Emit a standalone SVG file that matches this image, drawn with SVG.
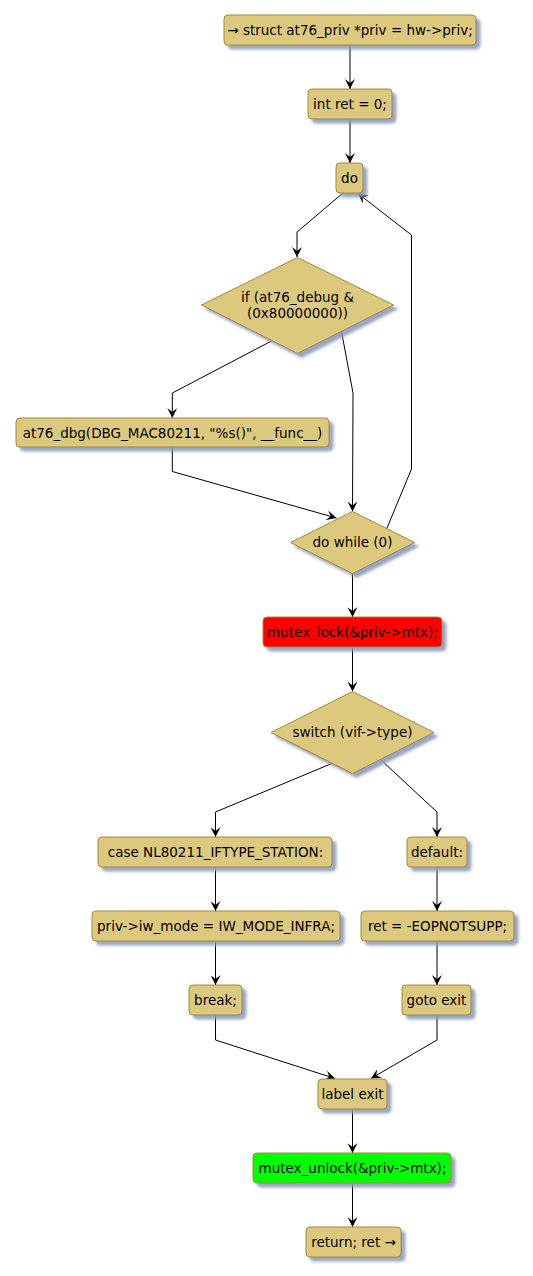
<svg xmlns="http://www.w3.org/2000/svg" width="533" height="1276" viewBox="0 0 533 1276">
<defs>
<filter id="sh" x="-20%" y="-20%" width="140%" height="160%">
<feGaussianBlur in="SourceAlpha" stdDeviation="1.5"/>
<feOffset dx="4" dy="4" result="o"/>
<feFlood flood-color="#8C9BBA" flood-opacity="0.9"/>
<feComposite in2="o" operator="in"/>
<feMerge><feMergeNode/><feMergeNode in="SourceGraphic"/></feMerge>
</filter>
<marker id="ah" viewBox="0 0 10 10" refX="10" refY="5" markerWidth="10" markerHeight="10" markerUnits="userSpaceOnUse" orient="auto">
<path d="M0,0 L10,5 L0,10 L4,5 Z" fill="#000"/>
</marker>
</defs>
<style>
.n{fill:#DDC97D;stroke:#A08A3C;stroke-width:1;filter:url(#sh)}
.red{fill:#FF0000}
.green{fill:#00FF00}
text{font-family:"DejaVu Sans",sans-serif;font-size:13.5px;fill:#000;text-anchor:middle}
.c{fill:none;stroke:#000;stroke-width:1;marker-end:url(#ah)}
</style>
<rect width="533" height="1276" fill="#fff"/>
<g id="connectors">
<path class="c" d="M350,45 V89"/>
<path class="c" d="M350,119 V163"/>
<path class="c" d="M343,193 L297,232 V257"/>
<path class="c" d="M271.5,341 L172.3,393 V418"/>
<path class="c" d="M341.5,331.5 L353,393 L352.5,511.5"/>
<path class="c" d="M172.3,447 V471.5 L336.5,518"/>
<path class="c" d="M387,528 L411.5,469 V235 L358,193.5"/>
<path class="c" d="M352.5,573 V617"/>
<path class="c" d="M352.5,647.5 V691.5"/>
<path class="c" d="M333,763 L215.5,812 V837"/>
<path class="c" d="M380,759 L437,812 V837"/>
<path class="c" d="M215.5,867.5 V911"/>
<path class="c" d="M437,867.5 V911"/>
<path class="c" d="M215.5,941.5 V985"/>
<path class="c" d="M437,941.5 V985"/>
<path class="c" d="M215.5,1015 V1040 L335,1078.5"/>
<path class="c" d="M437,1015 V1040 L371,1078.5"/>
<path class="c" d="M352.5,1109 V1153"/>
<path class="c" d="M352.5,1183 V1227"/>
</g>
<g id="n1"><rect class="n" x="224" y="15" width="252" height="30" rx="4"/><text x="350" y="35">→ struct at76_priv *priv = hw-&gt;priv;</text></g>
<g id="n2"><rect class="n" x="308" y="89" width="84" height="30" rx="4"/><text x="350" y="109">int ret = 0;</text></g>
<g id="n3"><rect class="n" x="336" y="163" width="27" height="30" rx="4"/><text x="349.5" y="183">do</text></g>
<g id="n4"><polygon class="n" points="297.5,257.5 393.5,305 297.5,353.5 201.5,305"/><text x="297.5" y="302">if (at76_debug &amp;</text><text x="297.5" y="318">(0x80000000))</text></g>
<g id="n5"><rect class="n" x="16" y="418" width="313" height="29" rx="4"/><text x="172.5" y="437.5">at76_dbg(DBG_MAC80211, "%s()", __func__)</text></g>
<g id="n6"><polygon class="n" points="352.5,511.5 414.5,542.5 352.5,573.5 290.5,542.5"/><text x="352.5" y="547">do while (0)</text></g>
<g id="n7"><rect class="n red" x="263" y="617" width="179" height="30" rx="4"/><text x="352.5" y="637">mutex_lock(&amp;priv-&gt;mtx);</text></g>
<g id="n8"><polygon class="n" points="352.5,691.5 434,732.5 352.5,773.5 271,732.5"/><text x="352.5" y="737">switch (vif-&gt;type)</text></g>
<g id="n9"><rect class="n" x="98" y="837" width="234" height="30" rx="4"/><text x="215.5" y="857">case NL80211_IFTYPE_STATION:</text></g>
<g id="n10"><rect class="n" x="407" y="837" width="60" height="30" rx="4"/><text x="437" y="857">default:</text></g>
<g id="n11"><rect class="n" x="92" y="911" width="248" height="30" rx="4"/><text x="216" y="931">priv-&gt;iw_mode = IW_MODE_INFRA;</text></g>
<g id="n12"><rect class="n" x="361" y="911" width="153" height="30" rx="4"/><text x="437.5" y="931">ret = -EOPNOTSUPP;</text></g>
<g id="n13"><rect class="n" x="189" y="985" width="53" height="30" rx="4"/><text x="215.5" y="1005">break;</text></g>
<g id="n14"><rect class="n" x="402" y="985" width="69" height="30" rx="4"/><text x="436.5" y="1005">goto exit</text></g>
<g id="n15"><rect class="n" x="318" y="1079" width="69" height="30" rx="4"/><text x="352.5" y="1099">label exit</text></g>
<g id="n16"><rect class="n green" x="253" y="1153" width="198" height="30" rx="4"/><text x="352.5" y="1173">mutex_unlock(&amp;priv-&gt;mtx);</text></g>
<g id="n17"><rect class="n" x="306" y="1227" width="95" height="30" rx="4"/><text x="353.5" y="1247">return; ret →</text></g>
</svg>
